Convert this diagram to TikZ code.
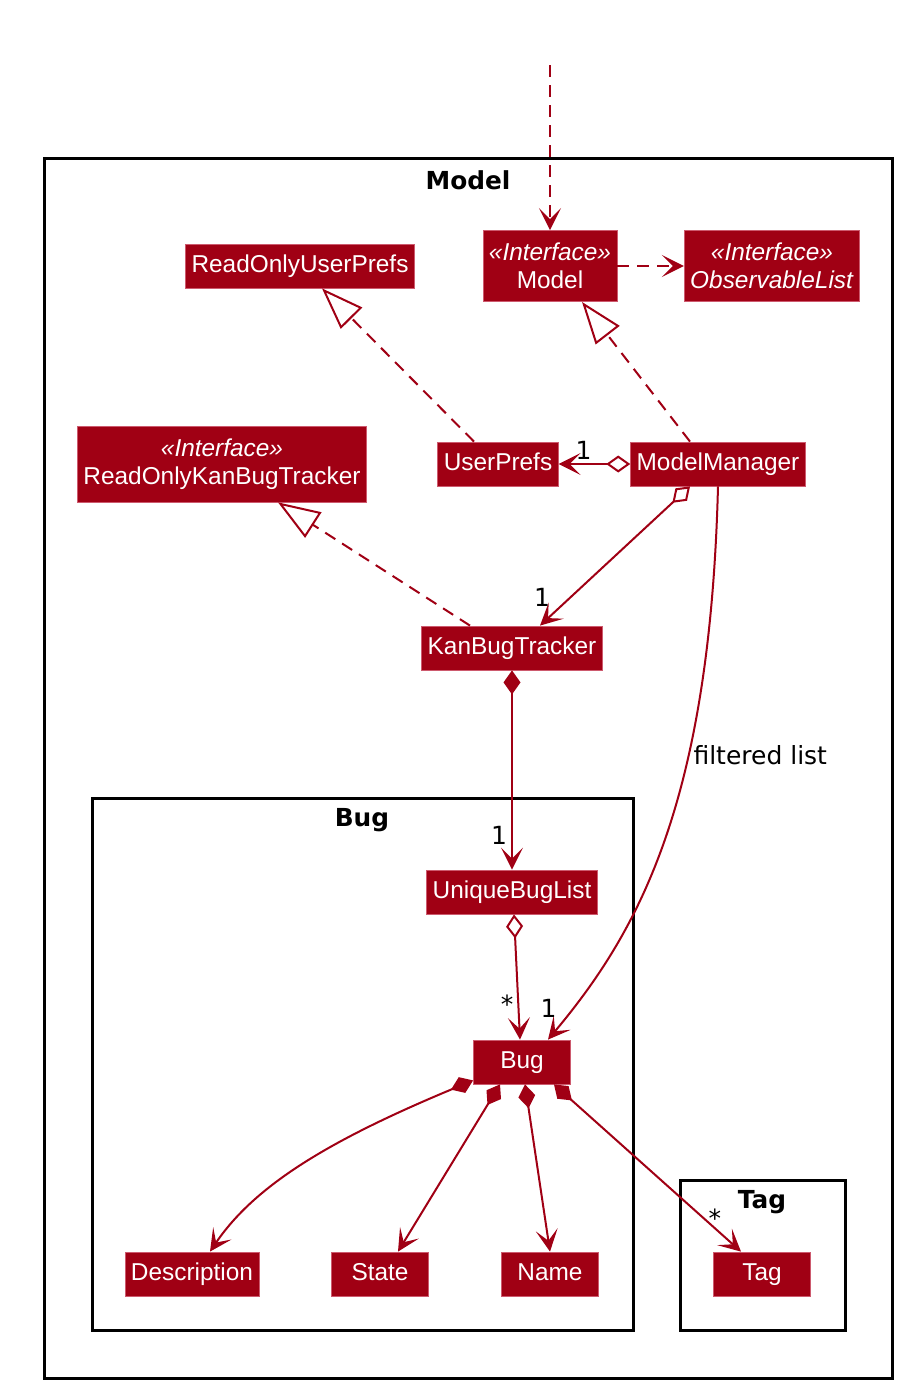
\documentclass[tikz,border=0pt]{standalone}
\usepackage{fontspec}
\newfontfamily\classfont{Liberation Sans}
\newfontfamily\labelfont{DejaVu Sans}
\usepackage{tikz}
\usetikzlibrary{arrows.meta, calc}
\definecolor{umlred}{RGB}{160,0,20}
\definecolor{umlline}{RGB}{205,90,110}

\begin{document}
\begin{tikzpicture}[
    x=0.5pt, y=-0.5pt,
    cls/.style={fill=umlred, draw=umlline, line width=0.4pt, text=white, align=center,
        inner xsep=3pt, inner ysep=5pt, minimum height=22pt, minimum width=48.5pt,
        text height=8.8pt, text depth=2.6pt,
        font=\classfont\fontsize{12.2}{14}\selectfont},
    iface/.style={cls, text height=, text depth=, inner ysep=6.3pt},
    pkg/.style={draw=black, line width=1.5pt},
    pkgtitle/.style={inner sep=0pt, font=\labelfont\bfseries\fontsize{12.4}{14}\selectfont},
    mult/.style={text=black, inner sep=2pt, font=\labelfont\fontsize{12.5}{14}\selectfont},
    link/.style={umlred, line width=1pt},
    dep/.style={link, dash pattern=on 6pt off 4pt, -{Stealth[length=11pt, width=11pt, inset=5.5pt]}},
    real/.style={link, dash pattern=on 6pt off 4pt, -{Triangle[open, length=21pt, width=15pt]}},
    assoc/.style={link, -{Stealth[length=11pt, width=11pt, inset=5.5pt]}},
    agg/.style={link, {Diamond[open, length=12pt, width=8.5pt]}-{Stealth[length=11pt, width=11pt, inset=5.5pt]}},
    comp/.style={link, {Diamond[length=12pt, width=8.5pt]}-{Stealth[length=11pt, width=11pt, inset=5.5pt]}},
]
    \useasboundingbox (0,0) rectangle (912,1398);

    % Packages
    \draw[pkg] (44,158) rectangle (892,1378);
    \node[pkgtitle] (modeltitle) at (468,180) {Model};
    \draw[pkg] (92,798) rectangle (633,1330);
    \node[pkgtitle] (bugtitle) at (362,820) {Bug};
    \draw[pkg] (680,1180) rectangle (845,1330);
    \node[pkgtitle] (tagtitle) at (762,1202) {Tag};

    % Classes
    \coordinate (ext) at (550,65);
    \node[iface] (model) at (550,266) {\textit{«Interface»}\\Model};
    \node[iface] (obs) at (772,266) {\textit{«Interface»}\\\textit{ObservableList}};
    \node[cls] (rup) at (300,266) {ReadOnlyUserPrefs};
    \node[iface] (rokbt) at (222,464) {\textit{«Interface»}\\ReadOnlyKanBugTracker};
    \node[cls] (up) at (498,464) {UserPrefs};
    \node[cls] (mm) at (718,464) {ModelManager};
    \node[cls] (kbt) at (512,648) {KanBugTracker};
    \node[cls] (ubl) at (512,892) {UniqueBugList};
    \node[cls] (bug) at (522,1062) {Bug};
    \node[cls] (desc) at (192,1274) {Description};
    \node[cls] (state) at (380,1274) {State};
    \node[cls] (name) at (550,1274) {Name};
    \node[cls] (tag) at (762,1274) {Tag};

    % Dependencies
    \draw[dep] (ext) -- (model.north);
    \draw[dep] (model.east) -- (obs.west);

    % Realizations
    \draw[real] ($(up.north)+(-24,0)$) -- ($(rup.south)+(22,0)$);
    \draw[real] ($(mm.north)+(-28,0)$) -- ($(model.south)+(32,0)$);
    \draw[real] ($(kbt.north)+(-42,0)$) -- ($(rokbt.south)+(56,0)$);

    % Associations
    \draw[agg] (mm.west) -- node[mult, pos=0.65, above] {1} (up.east);
    \draw[agg] ($(mm.south)+(-28,0)$) -- node[mult, pos=0.9, above left] {1} ($(kbt.north)+(28,0)$);
    \draw[comp] (kbt.south) -- node[mult, pos=0.83, left] {1} (ubl.north);
    \draw[agg] ($(ubl.south)+(2,0)$) -- node[mult, pos=0.72, left] {*} ($(bug.north)+(-2,0)$);
    \draw[assoc] (mm.south) .. controls (710,800) and (640,930) .. node[mult, pos=0.35, right] {filtered list} node[mult, pos=0.95, above left] {1} ($(bug.north)+(26,0)$);

    % Bug fields
    \draw[comp] ($(bug.south west)+(0,-4)$) .. controls (330,1140) and (255,1185) .. ($(desc.north)+(18,0)$);
    \draw[comp] ($(bug.south)+(-22,0)$) -- ($(state.north)+(18,0)$);
    \draw[comp] ($(bug.south)+(3,0)$) -- (name.north);
    \draw[comp] ($(bug.south)+(32,0)$) -- node[mult, pos=0.8, right] {*} ($(tag.north)+(-21,0)$);
\end{tikzpicture}
\end{document}
